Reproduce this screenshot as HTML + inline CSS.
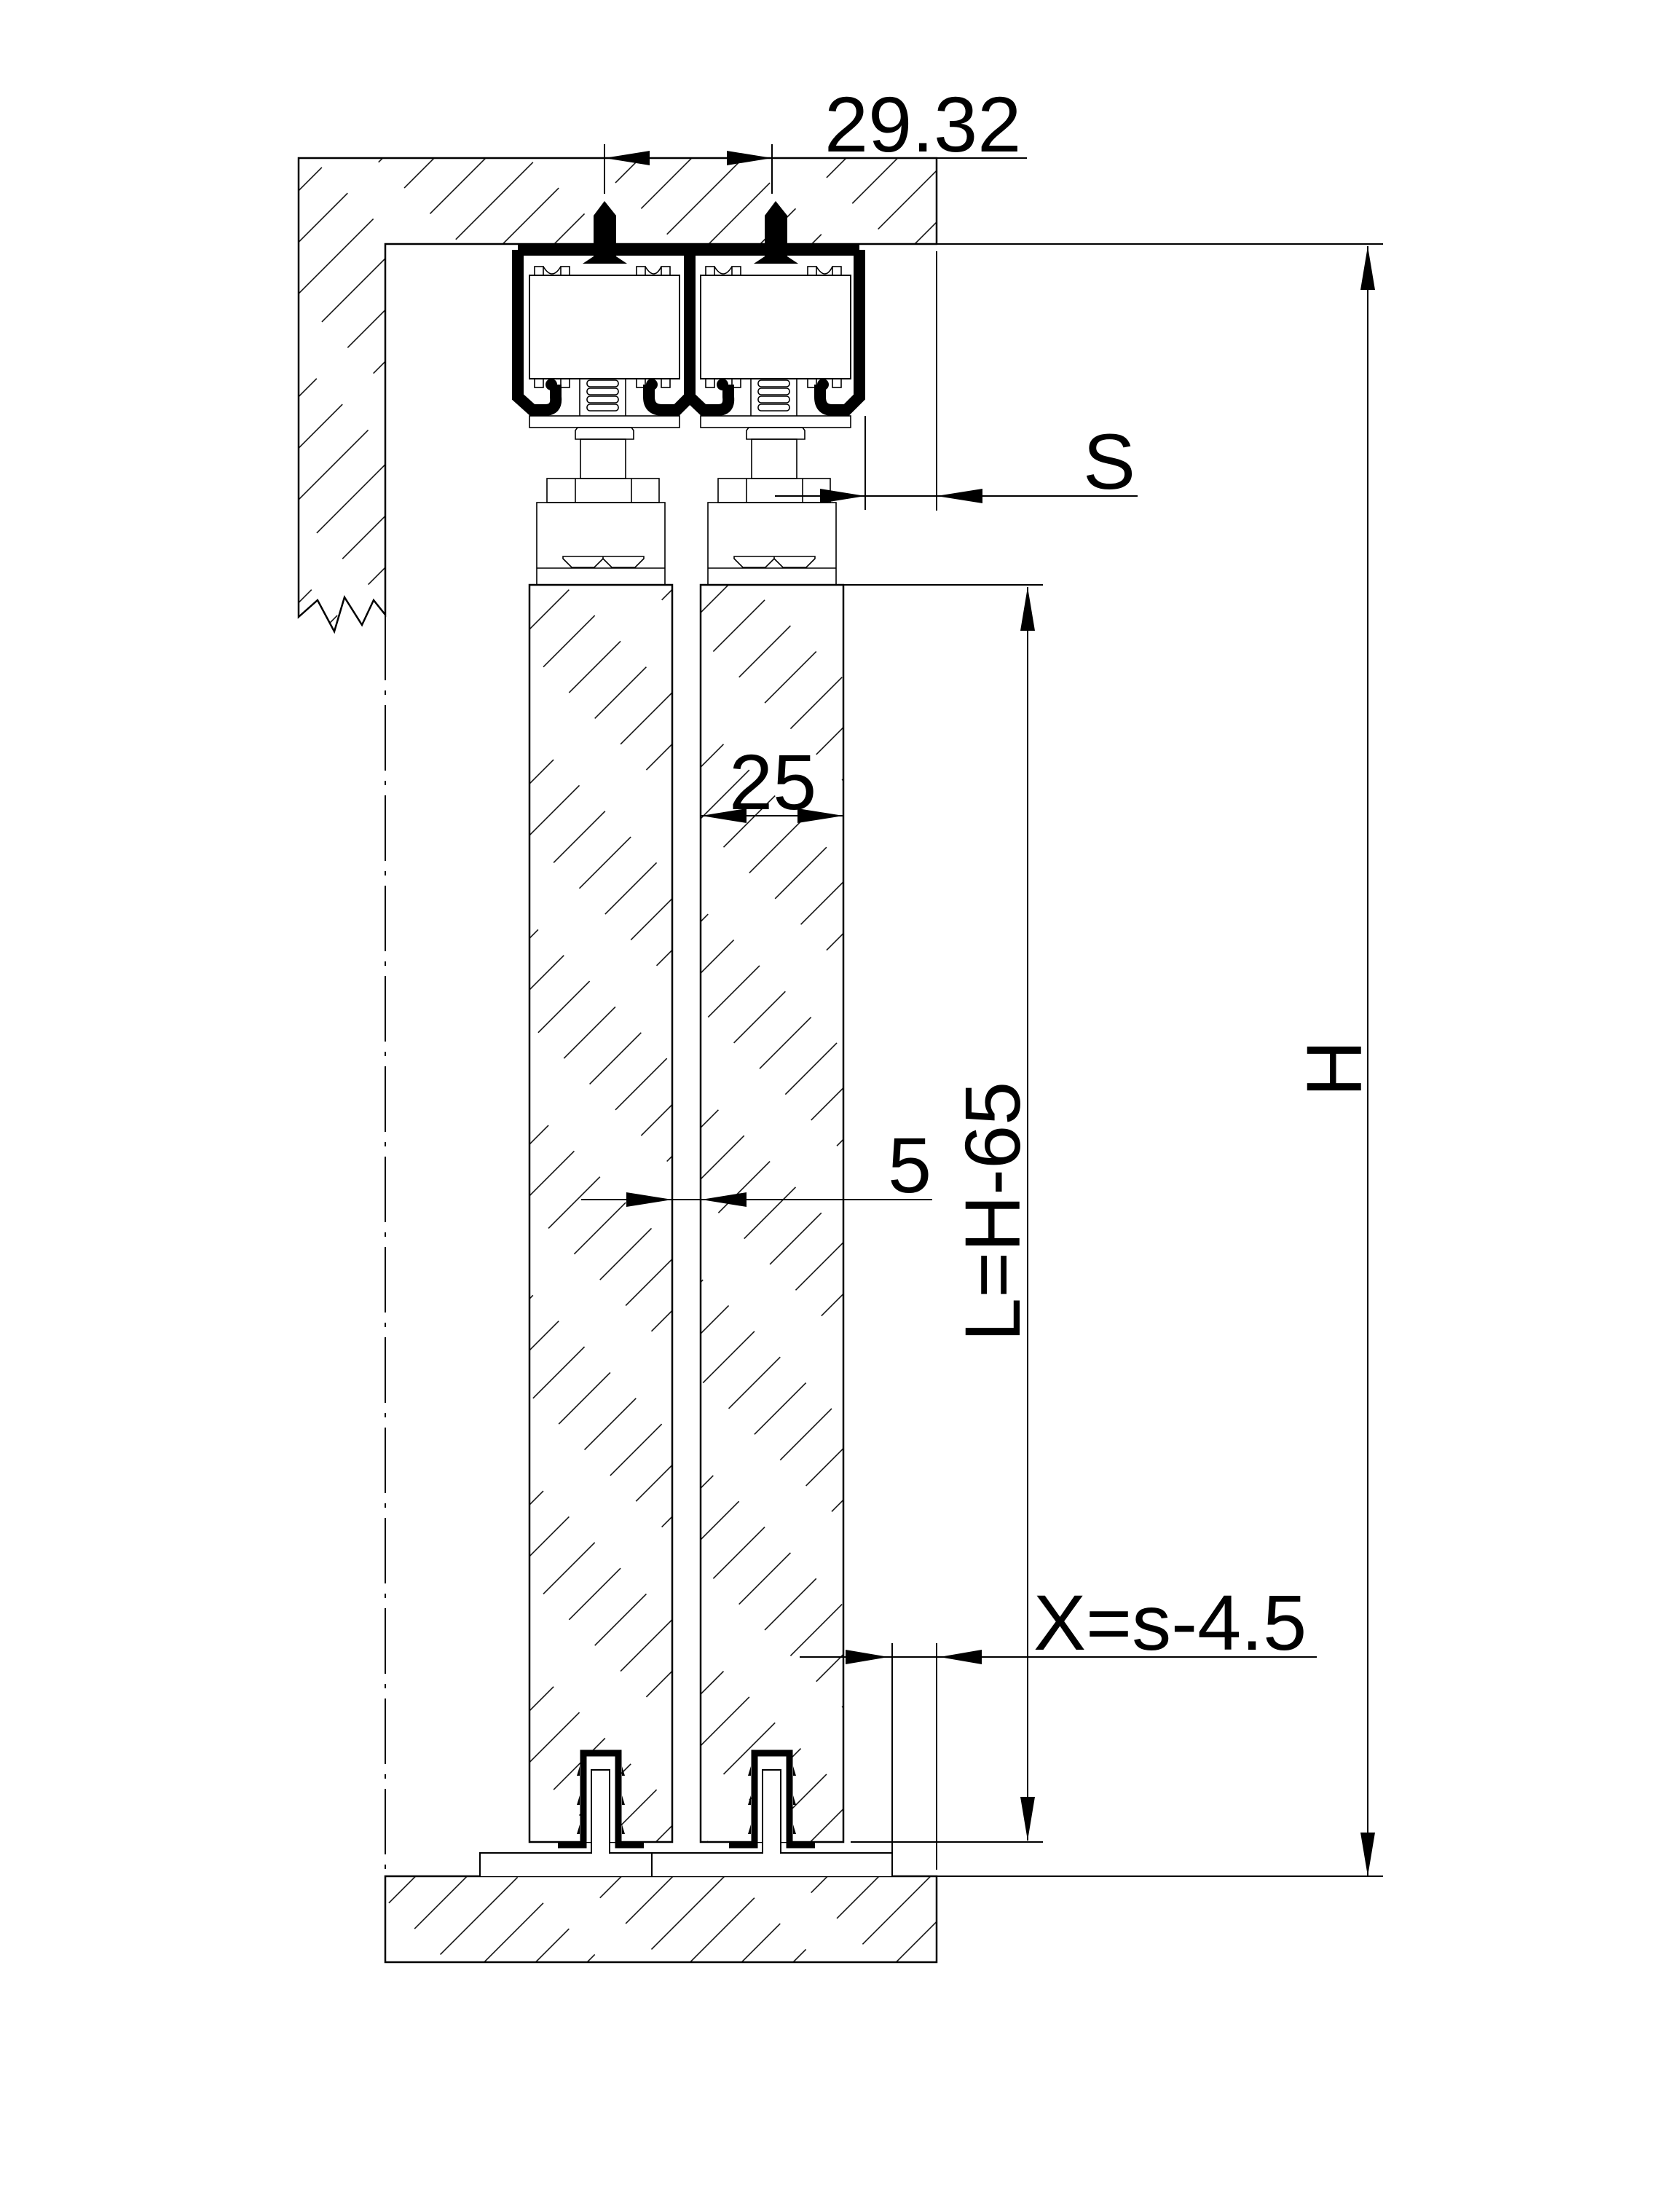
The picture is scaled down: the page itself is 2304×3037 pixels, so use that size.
<!DOCTYPE html>
<html><head><meta charset="utf-8"><style>
html,body{margin:0;padding:0;background:#fff;}
svg{display:block;}
text{font-family:"Liberation Sans",Arial,sans-serif;fill:#000;}
</style></head><body>
<svg width="2304" height="3037" viewBox="0 0 2304 3037" xmlns="http://www.w3.org/2000/svg">
<defs>
<pattern id="h1" patternUnits="userSpaceOnUse" width="210" height="50" patternTransform="rotate(-45)">
<line x1="0" y1="25" x2="150" y2="25" stroke="#000" stroke-width="1.6"/>
</pattern>
<pattern id="h2" patternUnits="userSpaceOnUse" width="180" height="50" patternTransform="rotate(-45) translate(60,0)">
<line x1="0" y1="25" x2="100" y2="25" stroke="#000" stroke-width="1.6"/>
</pattern>
<g id="hanger">
  <!-- rollers -->
  <rect x="727" y="378" width="206" height="142" fill="#fff" stroke="#000" stroke-width="2"/>
  <g fill="none" stroke="#000" stroke-width="1.6">
    <rect x="734" y="366" width="12" height="12"/><rect x="770" y="366" width="12" height="12"/>
    <path d="M746,366 Q758,386 770,366"/>
    <rect x="874" y="366" width="12" height="12"/><rect x="908" y="366" width="12" height="12"/>
    <path d="M886,366 Q898,386 908,366"/>
    <rect x="734" y="520" width="12" height="12"/><rect x="770" y="520" width="12" height="12"/>
    <rect x="874" y="520" width="12" height="12"/><rect x="908" y="520" width="12" height="12"/>
    <!-- spring -->
    <line x1="796" y1="520" x2="796" y2="571"/><line x1="859" y1="520" x2="859" y2="571"/>
    <rect x="806" y="522" width="43" height="9" rx="4"/>
    <rect x="806" y="533" width="43" height="9" rx="4"/>
    <rect x="806" y="544" width="43" height="9" rx="4"/>
    <rect x="806" y="555" width="43" height="9" rx="4"/>
    <!-- plate -->
    <rect x="727" y="571" width="206" height="16"/>
    <!-- collar -->
    <path d="M793,587 H867 L870,591 V603 H790 V591 Z"/>
    <rect x="797" y="603" width="62" height="54"/>
    <!-- nut -->
    <rect x="751" y="657" width="154" height="33"/>
    <line x1="790" y1="657" x2="790" y2="690"/><line x1="867" y1="657" x2="867" y2="690"/>
    <!-- block -->
    <rect x="737" y="690" width="176" height="113"/>
    <line x1="737" y1="780" x2="913" y2="780"/>
    <path d="M773,764 H884 V767 L872,779 H840 L828,767 L816,779 H785 L773,767 Z"/>
    <line x1="828" y1="764" x2="828" y2="767"/>
  </g>
  <!-- roller hooks -->
  <circle cx="757" cy="528" r="8" fill="#000"/>
  <circle cx="895" cy="528" r="8" fill="#000"/>
  <!-- screw -->
  <polygon points="830,276 846,296 846,352 861,362 800,362 815,352 815,296" fill="#000"/>
</g>
<g id="guide">
  <path d="M766,2533 H801 V2407 H849 V2533 H884" fill="none" stroke="#000" stroke-width="9"/>
  <g fill="#000">
    <polygon points="796,2425 796,2438 792,2438"/><polygon points="796,2465 796,2478 792,2478"/><polygon points="796,2505 796,2518 792,2518"/>
    <polygon points="854,2425 854,2438 858,2438"/><polygon points="854,2465 854,2478 858,2478"/><polygon points="854,2505 854,2518 858,2518"/>
  </g>
</g>
</defs>

<!-- ceiling & wall -->
<path d="M410,217 H1286 V335 H529 V844 L513,824 L497,858 L473,820 L459,867 L436,824 L410,847 Z" fill="url(#h1)" stroke="#000" stroke-width="2.5"/>
<!-- floor -->
<rect x="529" y="2576" width="757" height="118" fill="url(#h1)" stroke="#000" stroke-width="2.5"/>

<!-- glass panels -->
<rect x="727" y="803" width="196" height="1726" fill="url(#h2)" stroke="#000" stroke-width="2.5"/>
<rect x="962" y="803" width="196" height="1726" fill="url(#h2)" stroke="#000" stroke-width="2.5"/>
<!-- cover hatch where guides are inside glass -->
<rect x="804" y="2411" width="42" height="118" fill="#fff"/>
<rect x="1039" y="2411" width="42" height="118" fill="#fff"/>

<!-- dashed wall line -->
<line x1="529" y1="844" x2="529" y2="2576" stroke="#000" stroke-width="2" stroke-dasharray="90 14 6 14"/>

<!-- hangers -->
<use href="#hanger"/>
<use href="#hanger" transform="translate(235,0)"/>

<!-- track profile -->
<g fill="none" stroke="#000" stroke-width="16" stroke-linejoin="miter">
  <path d="M711,343 H1180"/>
  <path d="M711,343 V545 L731,563 H748 Q765,563 763,545 V528"/>
  <path d="M947,343 V545 L929,563 H910 Q891,563 891,545 V528"/>
  <path d="M947,545 L966,563 H985 Q1002,563 1000,545 V528"/>
  <path d="M1180,343 V545 L1162,563 H1143 Q1126,563 1126,545 V528"/>
</g>

<!-- floor guides -->
<path d="M659,2576 V2544 H812 V2430 H837 V2544 H1047 V2430 H1072 V2544 H1225 V2576" fill="#fff" stroke="#000" stroke-width="2"/>
<line x1="895" y1="2544" x2="895" y2="2576" stroke="#000" stroke-width="2"/>
<use href="#guide"/>
<use href="#guide" transform="translate(235,0)"/>

<!-- dimension lines -->
<g stroke="#000" stroke-width="2" fill="none">
  <!-- 29.32 -->
  <line x1="1286" y1="217" x2="1410" y2="217"/>
  <line x1="830" y1="198" x2="830" y2="266"/>
  <line x1="1060" y1="198" x2="1060" y2="266"/>
  <!-- top ext line -->
  <line x1="1188" y1="335" x2="1899" y2="335"/>
  <!-- S -->
  <line x1="1188" y1="571" x2="1188" y2="700"/>
  <line x1="1286" y1="345" x2="1286" y2="701"/>
  <line x1="1064" y1="681" x2="1562" y2="681"/>
  <!-- H -->
  <line x1="1878" y1="338" x2="1878" y2="2576"/>
  <line x1="1286" y1="2576" x2="1899" y2="2576"/>
  <!-- L -->
  <line x1="1411" y1="806" x2="1411" y2="2527"/>
  <line x1="1149" y1="803" x2="1432" y2="803"/>
  <line x1="1168" y1="2529" x2="1432" y2="2529"/>
  <!-- 25 -->
  <line x1="963" y1="1120" x2="1158" y2="1120"/>
  <!-- 5 -->
  <line x1="798" y1="1647" x2="1280" y2="1647"/>
  <!-- X -->
  <line x1="1098" y1="2275" x2="1808" y2="2275"/>
  <line x1="1225" y1="2256" x2="1225" y2="2544"/>
  <line x1="1286" y1="2256" x2="1286" y2="2567"/>
</g>
<g fill="#000">
  <!-- 29.32 arrows -->
  <polygon points="830,217 892,207 892,227"/>
  <polygon points="1060,217 998,207 998,227"/>
  <!-- S arrows -->
  <polygon points="1188,681 1126,671 1126,691"/>
  <polygon points="1286,681 1349,671 1349,691"/>
  <!-- H arrows -->
  <polygon points="1878,338 1868,398 1888,398"/>
  <polygon points="1878,2576 1868,2516 1888,2516"/>
  <!-- L arrows -->
  <polygon points="1411,806 1401,866 1421,866"/>
  <polygon points="1411,2527 1401,2467 1421,2467"/>
  <!-- 25 arrows -->
  <polygon points="963,1120 1025,1110 1025,1130"/>
  <polygon points="1158,1120 1095,1110 1095,1130"/>
  <!-- 5 arrows -->
  <polygon points="923,1647 860,1637 860,1657"/>
  <polygon points="963,1647 1025,1637 1025,1657"/>
  <!-- X arrows -->
  <polygon points="1220,2275 1161,2265 1161,2285"/>
  <polygon points="1290,2275 1348,2265 1348,2285"/>
</g>

<!-- labels -->
<text x="1132" y="208" font-size="108">29.32</text>
<text x="1487" y="671" font-size="108">S</text>
<text x="1001" y="1111" font-size="108">25</text>
<text x="1219" y="1637" font-size="108">5</text>
<text x="1419" y="2265" font-size="108">X=s-4.5</text>
<text transform="translate(1400,1842) rotate(-90)" font-size="108">L=H-65</text>
<text transform="translate(1869,1506) rotate(-90)" font-size="108">H</text>
</svg>
</body></html>
